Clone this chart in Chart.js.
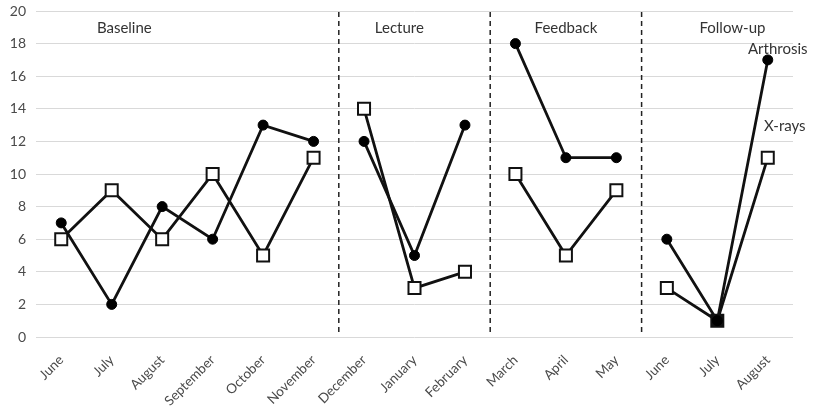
<!DOCTYPE html>
<html>
<head>
<meta charset="utf-8">
<script src="https://cdn.jsdelivr.net/npm/chart.js@4.4.0/dist/chart.umd.min.js"></script>
<style>
  html, body { margin: 0; padding: 0; background: #fff; }
  #wrap { width: 813px; height: 417px; }
</style>
</head>
<body>
<div id="wrap"><canvas id="chart" width="813" height="417"></canvas></div>
<script>
const months = ['June', 'July', 'August', 'September', 'October', 'November',
  'December', 'January', 'February', 'March', 'April', 'May',
  'June', 'July', 'August'];
const arthrosis = [7, 2, 8, 6, 13, 12, 12, 5, 13, 18, 11, 11, 6, 1, 17];
const xrays = [6, 9, 6, 10, 5, 11, 14, 3, 4, 10, 5, 9, 3, 1, 11];
const phaseNames = ['Baseline', 'Lecture', 'Feedback', 'Follow-up'];
const phaseStarts = [0, 6, 9, 12];
const yTicks = [0, 2, 4, 6, 8, 10, 12, 14, 16, 18, 20];

const FONT = 'Lato, "Noto Sans", sans-serif';
const breakAfter = phaseStarts.slice(1).map(i => i - 1);
// where the phase titles sit, in category units
const titleAt = [1.25, 6.7, 10, 13.3];

const segmentStyle = {
  borderColor: ctx => breakAfter.includes(ctx.p0DataIndex) ? 'rgba(0,0,0,0)' : '#111'
};

// dashed separators + phase titles + series names
const phasePlugin = {
  id: 'phases',
  afterDatasetsDraw(chart) {
    const {ctx, chartArea, scales: {x, y}} = chart;
    ctx.save();
    ctx.strokeStyle = '#222';
    ctx.lineWidth = 1.5;
    ctx.setLineDash([5, 4]);
    phaseStarts.slice(1).forEach(i => {
      const px = (x.getPixelForValue(i - 1) + x.getPixelForValue(i)) / 2;
      ctx.beginPath();
      ctx.moveTo(px, chartArea.top + 1);
      ctx.lineTo(px, chartArea.bottom - 4);
      ctx.stroke();
    });
    ctx.setLineDash([]);
    ctx.fillStyle = '#333';
    ctx.font = '15px ' + FONT;
    ctx.textAlign = 'center';
    ctx.textBaseline = 'middle';
    phaseNames.forEach((name, k) => {
      ctx.fillText(name, x.getPixelForValue(titleAt[k]), y.getPixelForValue(18.95));
    });
    const last = months.length - 1;
    ctx.fillText('Arthrosis', x.getPixelForValue(last) + 10, y.getPixelForValue(17.65));
    ctx.fillText('X-rays', x.getPixelForValue(last) + 17, y.getPixelForValue(12.95));
    ctx.restore();
  }
};

new Chart(document.getElementById('chart'), {
  type: 'line',
  data: {
    labels: months,
    datasets: [
      {
        label: 'Arthrosis',
        data: arthrosis,
        borderColor: '#111',
        borderWidth: 2.8,
        pointStyle: 'circle',
        pointRadius: 5,
        pointBackgroundColor: '#000',
        pointBorderColor: '#000',
        pointBorderWidth: 1,
        segment: segmentStyle,
        tension: 0
      },
      {
        label: 'X-rays',
        data: xrays,
        borderColor: '#111',
        borderWidth: 2.8,
        pointStyle: 'rect',
        pointRadius: 8.5,
        pointBackgroundColor: ctx => xrays[ctx.dataIndex] === arthrosis[ctx.dataIndex] ? '#111' : '#fff',
        pointBorderColor: '#111',
        pointBorderWidth: 2,
        segment: segmentStyle,
        tension: 0
      }
    ]
  },
  options: {
    responsive: false,
    animation: false,
    layout: {padding: {top: 11, right: 20, left: 0, bottom: 0}},
    plugins: {legend: {display: false}, tooltip: {enabled: false}},
    scales: {
      x: {
        offset: true,
        grid: {display: false},
        border: {display: false},
        ticks: {
          color: '#4a4a4a',
          font: {family: FONT, size: 13.5},
          minRotation: 45,
          maxRotation: 45,
          autoSkip: false,
          padding: 7
        },
        afterFit: s => { s.height = 80; }
      },
      y: {
        min: 0,
        max: 20,
        afterBuildTicks: s => { s.ticks = yTicks.map(v => ({value: v})); },
        grid: {color: '#d9d9d9', lineWidth: 1, drawTicks: false},
        border: {display: false},
        ticks: {
          color: '#4a4a4a',
          font: {family: FONT, size: 14},
          padding: 10
        },
        afterFit: s => { s.width = 36; s.paddingTop = 0; s.paddingBottom = 0; }
      }
    }
  },
  plugins: [phasePlugin]
});
</script>
</body>
</html>
